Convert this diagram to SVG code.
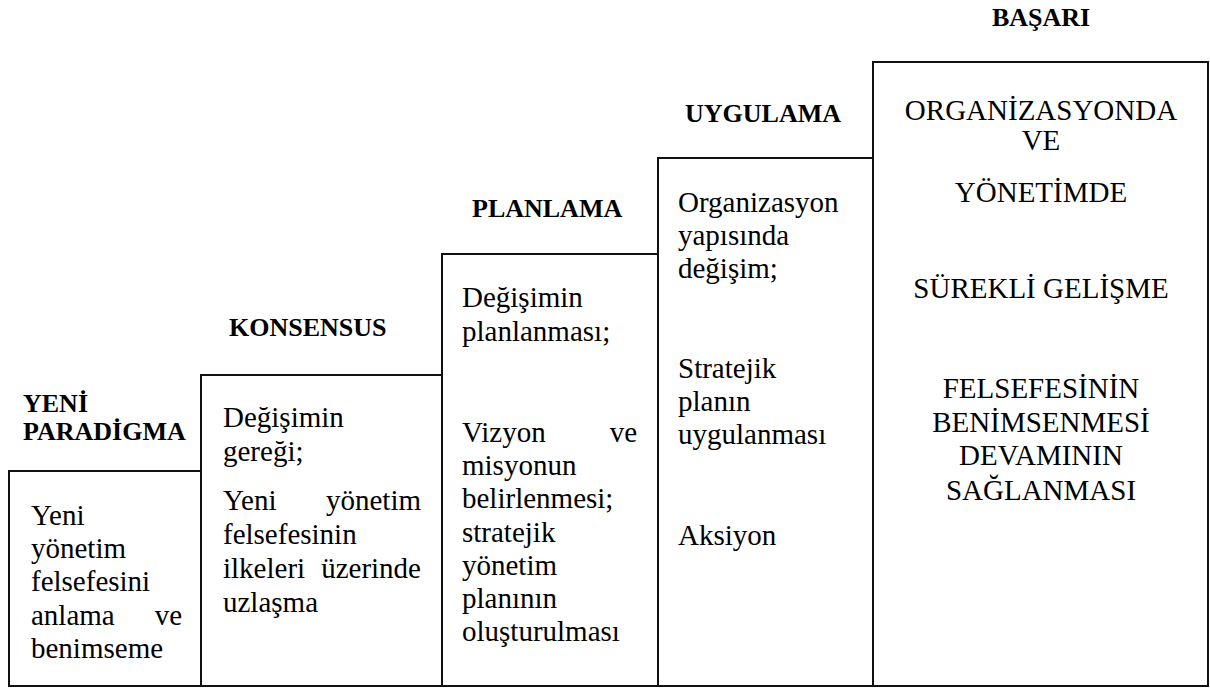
<svg xmlns="http://www.w3.org/2000/svg" width="1210" height="688" viewBox="0 0 1210 688">
<style>
rect.step{fill:#fff;stroke:#111;stroke-width:2}
text{font-family:"Liberation Serif","Times New Roman",serif;fill:#000}
.h{font-size:26px;font-weight:bold}
.b{font-size:29px}
.c{text-anchor:middle}
.e{text-anchor:end}
</style>
<rect width="1210" height="688" fill="#fff"/>
<g id="connectors"></g>
<g id="step1">
<rect class="step" x="9" y="471" width="192" height="215"/>
<text class="h" x="23" y="412">YENİ</text>
<text class="h" x="23" y="440">PARADİGMA</text>
<text class="b" x="31" y="525">Yeni</text>
<text class="b" x="31" y="558">yönetim</text>
<text class="b" x="31" y="591">felsefesini</text>
<text class="b" x="31" y="625">anlama</text><text class="b e" x="182" y="625">ve</text>
<text class="b" x="31" y="658">benimseme</text>
</g>
<g id="step2">
<rect class="step" x="201" y="375" width="241" height="311"/>
<text class="h" x="229" y="336">KONSENSUS</text>
<text class="b" x="223" y="427">Değişimin</text>
<text class="b" x="223" y="461">gereği;</text>
<text class="b" x="223" y="510">Yeni</text><text class="b e" x="421" y="510">yönetim</text>
<text class="b" x="223" y="544">felsefesinin</text>
<text class="b" x="223" y="578">ilkeleri</text><text class="b e" x="421" y="578">üzerinde</text>
<text class="b" x="223" y="612">uzlaşma</text>
</g>
<g id="step3">
<rect class="step" x="442" y="254" width="216" height="432"/>
<text class="h" x="472" y="217">PLANLAMA</text>
<text class="b" x="462" y="307">Değişimin</text>
<text class="b" x="462" y="341">planlanması;</text>
<text class="b" x="462" y="442">Vizyon</text><text class="b e" x="637" y="442">ve</text>
<text class="b" x="462" y="475">misyonun</text>
<text class="b" x="462" y="508">belirlenmesi;</text>
<text class="b" x="462" y="542">stratejik</text>
<text class="b" x="462" y="575">yönetim</text>
<text class="b" x="462" y="608">planının</text>
<text class="b" x="462" y="641">oluşturulması</text>
</g>
<g id="step4">
<rect class="step" x="658" y="158" width="215" height="528"/>
<text class="h" x="685" y="122">UYGULAMA</text>
<text class="b" x="678" y="212">Organizasyon</text>
<text class="b" x="678" y="245">yapısında</text>
<text class="b" x="678" y="278">değişim;</text>
<text class="b" x="678" y="378">Stratejik</text>
<text class="b" x="678" y="411">planın</text>
<text class="b" x="678" y="444">uygulanması</text>
<text class="b" x="678" y="545">Aksiyon</text>
</g>
<g id="step5">
<rect class="step" x="873" y="62" width="335" height="624"/>
<text class="h c" x="1041" y="26">BAŞARI</text>
<text class="b c" x="1041" y="120">ORGANİZASYONDA</text>
<text class="b c" x="1041" y="150">VE</text>
<text class="b c" x="1041" y="202">YÖNETİMDE</text>
<text class="b c" x="1041" y="298">SÜREKLİ GELİŞME</text>
<text class="b c" x="1041" y="398">FELSEFESİNİN</text>
<text class="b c" x="1041" y="432">BENİMSENMESİ</text>
<text class="b c" x="1041" y="465">DEVAMININ</text>
<text class="b c" x="1041" y="500">SAĞLANMASI</text>
</g>
</svg>
